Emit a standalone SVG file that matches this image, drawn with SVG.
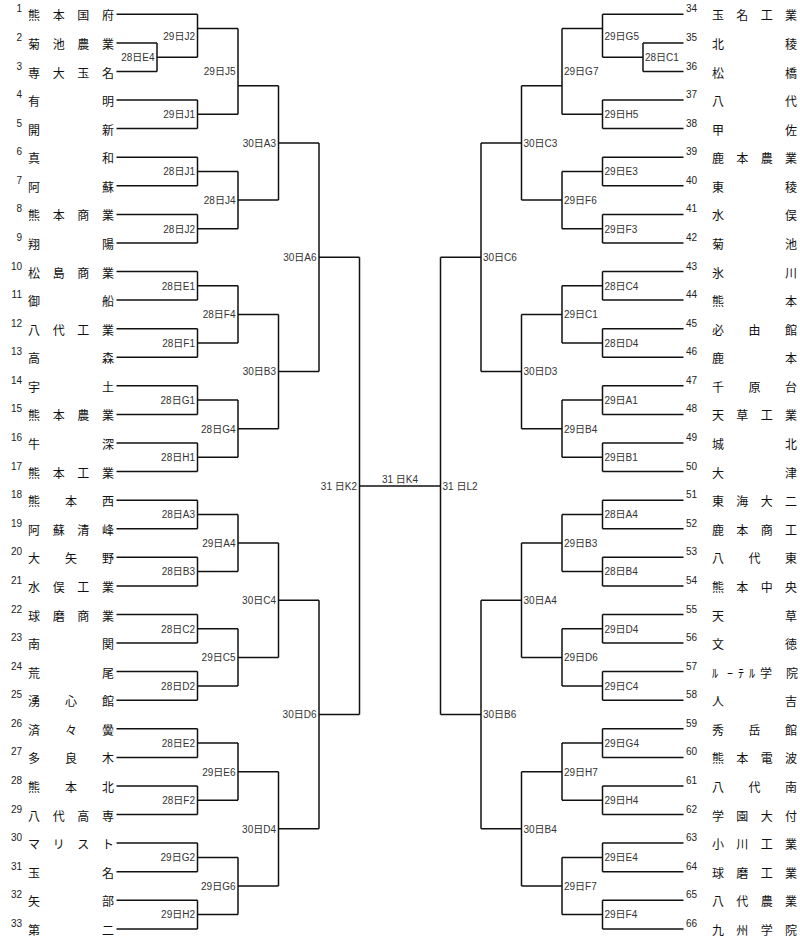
<svg xmlns="http://www.w3.org/2000/svg" width="800" height="943" viewBox="0 0 800 943">
<style>
.bg{fill:#fff}
.ln{fill:none;stroke:#111;stroke-width:1.5}
.num{font-family:"Liberation Sans",Arial,sans-serif;font-size:10px;fill:#222}
.nl{text-anchor:end}
.nm{font-family:"Noto Sans CJK JP","Noto Sans CJK SC",sans-serif;font-size:12px;fill:#111}
.lb{font-family:"Liberation Sans","Noto Sans CJK JP",sans-serif;font-size:10px;fill:#333}
.ll{text-anchor:end}
.lm{text-anchor:middle}
</style>
<rect class="bg" x="0" y="0" width="800" height="943"/>
<g id="connectors" class="ln">
<path d="M116.5 14.3H197.5M116.5 42.9H157M116.5 71.5H157M116.5 100H197.5M116.5 128.6H197.5M116.5 157.2H197.5M116.5 185.8H197.5M116.5 214.4H197.5M116.5 242.9H197.5M116.5 271.5H197.5M116.5 300.1H197.5M116.5 328.7H197.5M116.5 357.3H197.5M116.5 385.8H197.5M116.5 414.4H197.5M116.5 443H197.5M116.5 471.6H197.5M116.5 500.2H197.5M116.5 528.7H197.5M116.5 557.3H197.5M116.5 585.9H197.5M116.5 614.5H197.5M116.5 643.1H197.5M116.5 671.6H197.5M116.5 700.2H197.5M116.5 728.8H197.5M116.5 757.4H197.5M116.5 786H197.5M116.5 814.5H197.5M116.5 843.1H197.5M116.5 871.7H197.5M116.5 900.3H197.5M116.5 928.9H197.5"/>
<path d="M683.5 14.3H602.5M683.5 42.9H643M683.5 71.5H643M683.5 100H602.5M683.5 128.6H602.5M683.5 157.2H602.5M683.5 185.8H602.5M683.5 214.4H602.5M683.5 242.9H602.5M683.5 271.5H602.5M683.5 300.1H602.5M683.5 328.7H602.5M683.5 357.3H602.5M683.5 385.8H602.5M683.5 414.4H602.5M683.5 443H602.5M683.5 471.6H602.5M683.5 500.2H602.5M683.5 528.7H602.5M683.5 557.3H602.5M683.5 585.9H602.5M683.5 614.5H602.5M683.5 643.1H602.5M683.5 671.6H602.5M683.5 700.2H602.5M683.5 728.8H602.5M683.5 757.4H602.5M683.5 786H602.5M683.5 814.5H602.5M683.5 843.1H602.5M683.5 871.7H602.5M683.5 900.3H602.5M683.5 928.9H602.5"/>
<path d="M157 42.9V71.5M157 57.2H197.5M197.5 14.3V57.2M197.5 28.6H238M197.5 100V128.6M197.5 114.3H238M238 28.6V114.3M238 85.8H278.5M197.5 157.2V185.8M197.5 171.5H238M197.5 214.4V242.9M197.5 228.7H238M238 171.5V228.7M238 200.1H278.5M278.5 85.8V200.1M278.5 142.9H319M197.5 271.5V300.1M197.5 285.8H238M197.5 328.7V357.3M197.5 343H238M238 285.8V343M238 314.4H278.5M197.5 385.8V414.4M197.5 400.1H238M197.5 443V471.6M197.5 457.3H238M238 400.1V457.3M238 428.7H278.5M278.5 314.4V428.7M278.5 371.6H319M319 142.9V371.6M319 257.2H359.5"/>
<path d="M197.5 500.2V528.7M197.5 514.5H238M197.5 557.3V585.9M197.5 571.6H238M238 514.5V571.6M238 543H278.5M197.5 614.5V643.1M197.5 628.8H238M197.5 671.6V700.2M197.5 685.9H238M238 628.8V685.9M238 657.4H278.5M278.5 543V657.4M278.5 600.2H319M197.5 728.8V757.4M197.5 743.1H238M197.5 786V814.5M197.5 800.3H238M238 743.1V800.3M238 771.7H278.5M197.5 843.1V871.7M197.5 857.4H238M197.5 900.3V928.9M197.5 914.6H238M238 857.4V914.6M238 886H278.5M278.5 771.7V886M278.5 828.8H319M319 600.2V828.8M319 714.5H359.5"/>
<path d="M359.5 257.2V714.5M359.5 485.9H440.5M440.5 257.2V714.5"/>
<path d="M643 42.9V71.5M643 57.2H602.5M602.5 14.3V57.2M602.5 28.6H562M602.5 100V128.6M602.5 114.3H562M562 28.6V114.3M562 85.8H521.5M602.5 157.2V185.8M602.5 171.5H562M602.5 214.4V242.9M602.5 228.7H562M562 171.5V228.7M562 200.1H521.5M521.5 85.8V200.1M521.5 142.9H481M602.5 271.5V300.1M602.5 285.8H562M602.5 328.7V357.3M602.5 343H562M562 285.8V343M562 314.4H521.5M602.5 385.8V414.4M602.5 400.1H562M602.5 443V471.6M602.5 457.3H562M562 400.1V457.3M562 428.7H521.5M521.5 314.4V428.7M521.5 371.6H481M481 142.9V371.6M481 257.2H440.5"/>
<path d="M602.5 500.2V528.7M602.5 514.5H562M602.5 557.3V585.9M602.5 571.6H562M562 514.5V571.6M562 543H521.5M602.5 614.5V643.1M602.5 628.8H562M602.5 671.6V700.2M602.5 685.9H562M562 628.8V685.9M562 657.4H521.5M521.5 543V657.4M521.5 600.2H481M602.5 728.8V757.4M602.5 743.1H562M602.5 786V814.5M602.5 800.3H562M562 743.1V800.3M562 771.7H521.5M602.5 843.1V871.7M602.5 857.4H562M602.5 900.3V928.9M602.5 914.6H562M562 857.4V914.6M562 886H521.5M521.5 771.7V886M521.5 828.8H481M481 600.2V828.8M481 714.5H440.5"/>
</g>
<g id="teams-left">
<g id="t1"><text class="num nl" x="22" y="12.3">1</text><text class="nm" x="28" y="20.3" textLength="86" lengthAdjust="spacing">熊本国府</text></g>
<g id="t2"><text class="num nl" x="22" y="40.9">2</text><text class="nm" x="28" y="48.9" textLength="86" lengthAdjust="spacing">菊池農業</text></g>
<g id="t3"><text class="num nl" x="22" y="69.5">3</text><text class="nm" x="28" y="77.5" textLength="86" lengthAdjust="spacing">専大玉名</text></g>
<g id="t4"><text class="num nl" x="22" y="98">4</text><text class="nm" x="28" y="106" textLength="86" lengthAdjust="spacing">有明</text></g>
<g id="t5"><text class="num nl" x="22" y="126.6">5</text><text class="nm" x="28" y="134.6" textLength="86" lengthAdjust="spacing">開新</text></g>
<g id="t6"><text class="num nl" x="22" y="155.2">6</text><text class="nm" x="28" y="163.2" textLength="86" lengthAdjust="spacing">真和</text></g>
<g id="t7"><text class="num nl" x="22" y="183.8">7</text><text class="nm" x="28" y="191.8" textLength="86" lengthAdjust="spacing">阿蘇</text></g>
<g id="t8"><text class="num nl" x="22" y="212.4">8</text><text class="nm" x="28" y="220.4" textLength="86" lengthAdjust="spacing">熊本商業</text></g>
<g id="t9"><text class="num nl" x="22" y="240.9">9</text><text class="nm" x="28" y="248.9" textLength="86" lengthAdjust="spacing">翔陽</text></g>
<g id="t10"><text class="num nl" x="22" y="269.5">10</text><text class="nm" x="28" y="277.5" textLength="86" lengthAdjust="spacing">松島商業</text></g>
<g id="t11"><text class="num nl" x="22" y="298.1">11</text><text class="nm" x="28" y="306.1" textLength="86" lengthAdjust="spacing">御船</text></g>
<g id="t12"><text class="num nl" x="22" y="326.7">12</text><text class="nm" x="28" y="334.7" textLength="86" lengthAdjust="spacing">八代工業</text></g>
<g id="t13"><text class="num nl" x="22" y="355.3">13</text><text class="nm" x="28" y="363.3" textLength="86" lengthAdjust="spacing">高森</text></g>
<g id="t14"><text class="num nl" x="22" y="383.8">14</text><text class="nm" x="28" y="391.8" textLength="86" lengthAdjust="spacing">宇土</text></g>
<g id="t15"><text class="num nl" x="22" y="412.4">15</text><text class="nm" x="28" y="420.4" textLength="86" lengthAdjust="spacing">熊本農業</text></g>
<g id="t16"><text class="num nl" x="22" y="441">16</text><text class="nm" x="28" y="449" textLength="86" lengthAdjust="spacing">牛深</text></g>
<g id="t17"><text class="num nl" x="22" y="469.6">17</text><text class="nm" x="28" y="477.6" textLength="86" lengthAdjust="spacing">熊本工業</text></g>
<g id="t18"><text class="num nl" x="22" y="498.2">18</text><text class="nm" x="28" y="506.2" textLength="86" lengthAdjust="spacing">熊本西</text></g>
<g id="t19"><text class="num nl" x="22" y="526.7">19</text><text class="nm" x="28" y="534.7" textLength="86" lengthAdjust="spacing">阿蘇清峰</text></g>
<g id="t20"><text class="num nl" x="22" y="555.3">20</text><text class="nm" x="28" y="563.3" textLength="86" lengthAdjust="spacing">大矢野</text></g>
<g id="t21"><text class="num nl" x="22" y="583.9">21</text><text class="nm" x="28" y="591.9" textLength="86" lengthAdjust="spacing">水俣工業</text></g>
<g id="t22"><text class="num nl" x="22" y="612.5">22</text><text class="nm" x="28" y="620.5" textLength="86" lengthAdjust="spacing">球磨商業</text></g>
<g id="t23"><text class="num nl" x="22" y="641.1">23</text><text class="nm" x="28" y="649.1" textLength="86" lengthAdjust="spacing">南関</text></g>
<g id="t24"><text class="num nl" x="22" y="669.6">24</text><text class="nm" x="28" y="677.6" textLength="86" lengthAdjust="spacing">荒尾</text></g>
<g id="t25"><text class="num nl" x="22" y="698.2">25</text><text class="nm" x="28" y="706.2" textLength="86" lengthAdjust="spacing">湧心館</text></g>
<g id="t26"><text class="num nl" x="22" y="726.8">26</text><text class="nm" x="28" y="734.8" textLength="86" lengthAdjust="spacing">済々黌</text></g>
<g id="t27"><text class="num nl" x="22" y="755.4">27</text><text class="nm" x="28" y="763.4" textLength="86" lengthAdjust="spacing">多良木</text></g>
<g id="t28"><text class="num nl" x="22" y="784">28</text><text class="nm" x="28" y="792" textLength="86" lengthAdjust="spacing">熊本北</text></g>
<g id="t29"><text class="num nl" x="22" y="812.5">29</text><text class="nm" x="28" y="820.5" textLength="86" lengthAdjust="spacing">八代高専</text></g>
<g id="t30"><text class="num nl" x="22" y="841.1">30</text><text class="nm" x="28" y="849.1" textLength="86" lengthAdjust="spacing">マリスト</text></g>
<g id="t31"><text class="num nl" x="22" y="869.7">31</text><text class="nm" x="28" y="877.7" textLength="86" lengthAdjust="spacing">玉名</text></g>
<g id="t32"><text class="num nl" x="22" y="898.3">32</text><text class="nm" x="28" y="906.3" textLength="86" lengthAdjust="spacing">矢部</text></g>
<g id="t33"><text class="num nl" x="22" y="926.9">33</text><text class="nm" x="28" y="934.9" textLength="86" lengthAdjust="spacing">第二</text></g>
</g>
<g id="teams-right">
<g id="t34"><text class="num" x="686" y="12.3">34</text><text class="nm" x="712" y="20.3" textLength="85" lengthAdjust="spacing">玉名工業</text></g>
<g id="t35"><text class="num" x="686" y="40.9">35</text><text class="nm" x="712" y="48.9" textLength="85" lengthAdjust="spacing">北稜</text></g>
<g id="t36"><text class="num" x="686" y="69.5">36</text><text class="nm" x="712" y="77.5" textLength="85" lengthAdjust="spacing">松橋</text></g>
<g id="t37"><text class="num" x="686" y="98">37</text><text class="nm" x="712" y="106" textLength="85" lengthAdjust="spacing">八代</text></g>
<g id="t38"><text class="num" x="686" y="126.6">38</text><text class="nm" x="712" y="134.6" textLength="85" lengthAdjust="spacing">甲佐</text></g>
<g id="t39"><text class="num" x="686" y="155.2">39</text><text class="nm" x="712" y="163.2" textLength="85" lengthAdjust="spacing">鹿本農業</text></g>
<g id="t40"><text class="num" x="686" y="183.8">40</text><text class="nm" x="712" y="191.8" textLength="85" lengthAdjust="spacing">東稜</text></g>
<g id="t41"><text class="num" x="686" y="212.4">41</text><text class="nm" x="712" y="220.4" textLength="85" lengthAdjust="spacing">水俣</text></g>
<g id="t42"><text class="num" x="686" y="240.9">42</text><text class="nm" x="712" y="248.9" textLength="85" lengthAdjust="spacing">菊池</text></g>
<g id="t43"><text class="num" x="686" y="269.5">43</text><text class="nm" x="712" y="277.5" textLength="85" lengthAdjust="spacing">氷川</text></g>
<g id="t44"><text class="num" x="686" y="298.1">44</text><text class="nm" x="712" y="306.1" textLength="85" lengthAdjust="spacing">熊本</text></g>
<g id="t45"><text class="num" x="686" y="326.7">45</text><text class="nm" x="712" y="334.7" textLength="85" lengthAdjust="spacing">必由館</text></g>
<g id="t46"><text class="num" x="686" y="355.3">46</text><text class="nm" x="712" y="363.3" textLength="85" lengthAdjust="spacing">鹿本</text></g>
<g id="t47"><text class="num" x="686" y="383.8">47</text><text class="nm" x="712" y="391.8" textLength="85" lengthAdjust="spacing">千原台</text></g>
<g id="t48"><text class="num" x="686" y="412.4">48</text><text class="nm" x="712" y="420.4" textLength="85" lengthAdjust="spacing">天草工業</text></g>
<g id="t49"><text class="num" x="686" y="441">49</text><text class="nm" x="712" y="449" textLength="85" lengthAdjust="spacing">城北</text></g>
<g id="t50"><text class="num" x="686" y="469.6">50</text><text class="nm" x="712" y="477.6" textLength="85" lengthAdjust="spacing">大津</text></g>
<g id="t51"><text class="num" x="686" y="498.2">51</text><text class="nm" x="712" y="506.2" textLength="85" lengthAdjust="spacing">東海大二</text></g>
<g id="t52"><text class="num" x="686" y="526.7">52</text><text class="nm" x="712" y="534.7" textLength="85" lengthAdjust="spacing">鹿本商工</text></g>
<g id="t53"><text class="num" x="686" y="555.3">53</text><text class="nm" x="712" y="563.3" textLength="85" lengthAdjust="spacing">八代東</text></g>
<g id="t54"><text class="num" x="686" y="583.9">54</text><text class="nm" x="712" y="591.9" textLength="85" lengthAdjust="spacing">熊本中央</text></g>
<g id="t55"><text class="num" x="686" y="612.5">55</text><text class="nm" x="712" y="620.5" textLength="85" lengthAdjust="spacing">天草</text></g>
<g id="t56"><text class="num" x="686" y="641.1">56</text><text class="nm" x="712" y="649.1" textLength="85" lengthAdjust="spacing">文徳</text></g>
<g id="t57"><text class="num" x="686" y="669.6">57</text><text class="nm" x="712 727 738 749 760 786" y="677.6">ﾙｰﾃﾙ学院</text></g>
<g id="t58"><text class="num" x="686" y="698.2">58</text><text class="nm" x="712" y="706.2" textLength="85" lengthAdjust="spacing">人吉</text></g>
<g id="t59"><text class="num" x="686" y="726.8">59</text><text class="nm" x="712" y="734.8" textLength="85" lengthAdjust="spacing">秀岳館</text></g>
<g id="t60"><text class="num" x="686" y="755.4">60</text><text class="nm" x="712" y="763.4" textLength="85" lengthAdjust="spacing">熊本電波</text></g>
<g id="t61"><text class="num" x="686" y="784">61</text><text class="nm" x="712" y="792" textLength="85" lengthAdjust="spacing">八代南</text></g>
<g id="t62"><text class="num" x="686" y="812.5">62</text><text class="nm" x="712" y="820.5" textLength="85" lengthAdjust="spacing">学園大付</text></g>
<g id="t63"><text class="num" x="686" y="841.1">63</text><text class="nm" x="712" y="849.1" textLength="85" lengthAdjust="spacing">小川工業</text></g>
<g id="t64"><text class="num" x="686" y="869.7">64</text><text class="nm" x="712" y="877.7" textLength="85" lengthAdjust="spacing">球磨工業</text></g>
<g id="t65"><text class="num" x="686" y="898.3">65</text><text class="nm" x="712" y="906.3" textLength="85" lengthAdjust="spacing">八代農業</text></g>
<g id="t66"><text class="num" x="686" y="926.9">66</text><text class="nm" x="712" y="934.9" textLength="85" lengthAdjust="spacing">九州学院</text></g>
</g>
<g id="match-labels-left" class="lb ll">
<text id="mL-E4" x="154.5" y="61">28日E4</text>
<text id="mL-J2b" x="195" y="39.5">29日J2</text>
<text id="mL-J1b" x="195" y="118.1">29日J1</text>
<text id="mL-J5" x="235.5" y="75.3">29日J5</text>
<text id="mL-J1" x="195" y="175.3">28日J1</text>
<text id="mL-J2" x="195" y="232.5">28日J2</text>
<text id="mL-J4" x="235.5" y="203.9">28日J4</text>
<text id="mL-A3b" x="276" y="146.7">30日A3</text>
<text id="mL-E1" x="195" y="289.6">28日E1</text>
<text id="mL-F1" x="195" y="346.8">28日F1</text>
<text id="mL-F4" x="235.5" y="318.2">28日F4</text>
<text id="mL-G1" x="195" y="403.9">28日G1</text>
<text id="mL-H1" x="195" y="461.1">28日H1</text>
<text id="mL-G4" x="235.5" y="432.5">28日G4</text>
<text id="mL-B3b" x="276" y="375.4">30日B3</text>
<text id="mL-A6" x="316.5" y="261">30日A6</text>
<text id="mL-A3" x="195" y="518.3">28日A3</text>
<text id="mL-B3" x="195" y="575.4">28日B3</text>
<text id="mL-A4" x="235.5" y="546.8">29日A4</text>
<text id="mL-C2" x="195" y="632.6">28日C2</text>
<text id="mL-D2" x="195" y="689.7">28日D2</text>
<text id="mL-C5" x="235.5" y="661.2">29日C5</text>
<text id="mL-C4" x="276" y="604">30日C4</text>
<text id="mL-E2" x="195" y="746.9">28日E2</text>
<text id="mL-F2" x="195" y="804.1">28日F2</text>
<text id="mL-E6" x="235.5" y="775.5">29日E6</text>
<text id="mL-G2" x="195" y="861.2">29日G2</text>
<text id="mL-H2" x="195" y="918.4">29日H2</text>
<text id="mL-G6" x="235.5" y="889.8">29日G6</text>
<text id="mL-D4" x="276" y="832.6">30日D4</text>
<text id="mL-D6" x="316.5" y="718.3">30日D6</text>
<text id="mL-K2" x="357" y="489.7">31 日K2</text>
</g>
<g id="match-label-final" class="lb lm"><text id="m-K4" x="400" y="483">31 日K4</text></g>
<g id="match-labels-right" class="lb">
<text id="mR-C1" x="645" y="61">28日C1</text>
<text id="mR-G5" x="604.5" y="39.5">29日G5</text>
<text id="mR-H5" x="604.5" y="118.1">29日H5</text>
<text id="mR-G7" x="564" y="75.3">29日G7</text>
<text id="mR-E3" x="604.5" y="175.3">29日E3</text>
<text id="mR-F3" x="604.5" y="232.5">29日F3</text>
<text id="mR-F6" x="564" y="203.9">29日F6</text>
<text id="mR-C3" x="523.5" y="146.7">30日C3</text>
<text id="mR-C4a" x="604.5" y="289.6">28日C4</text>
<text id="mR-D4a" x="604.5" y="346.8">28日D4</text>
<text id="mR-C1b" x="564" y="318.2">29日C1</text>
<text id="mR-A1" x="604.5" y="403.9">29日A1</text>
<text id="mR-B1" x="604.5" y="461.1">29日B1</text>
<text id="mR-B4b" x="564" y="432.5">29日B4</text>
<text id="mR-D3" x="523.5" y="375.4">30日D3</text>
<text id="mR-C6" x="483" y="261">30日C6</text>
<text id="mR-A4a" x="604.5" y="518.3">28日A4</text>
<text id="mR-B4a" x="604.5" y="575.4">28日B4</text>
<text id="mR-B3" x="564" y="546.8">29日B3</text>
<text id="mR-D4b" x="604.5" y="632.6">29日D4</text>
<text id="mR-C4b" x="604.5" y="689.7">29日C4</text>
<text id="mR-D6" x="564" y="661.2">29日D6</text>
<text id="mR-A4c" x="523.5" y="604">30日A4</text>
<text id="mR-G4" x="604.5" y="746.9">29日G4</text>
<text id="mR-H4" x="604.5" y="804.1">29日H4</text>
<text id="mR-H7" x="564" y="775.5">29日H7</text>
<text id="mR-E4" x="604.5" y="861.2">29日E4</text>
<text id="mR-F4" x="604.5" y="918.4">29日F4</text>
<text id="mR-F7" x="564" y="889.8">29日F7</text>
<text id="mR-B4c" x="523.5" y="832.6">30日B4</text>
<text id="mR-B6" x="483" y="718.3">30日B6</text>
<text id="mR-L2" x="442.5" y="489.7">31 日L2</text>
</g>
</svg>
